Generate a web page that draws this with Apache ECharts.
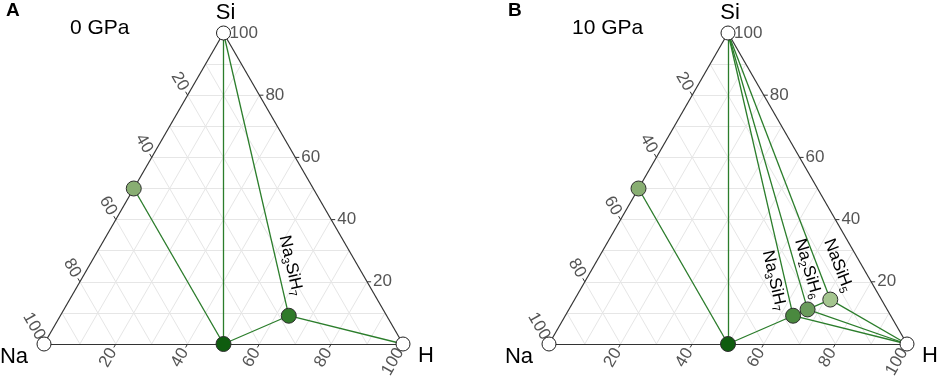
<!DOCTYPE html>
<html>
<head>
<meta charset="utf-8">
<script src="https://cdn.jsdelivr.net/npm/echarts@6/dist/echarts.min.js"></script>
<style>
  html, body { margin: 0; padding: 0; background: #fff; }
  #chart { width: 941px; height: 376px; }
</style>
</head>
<body>
<div id="chart"></div>
<script>
// ---- data ----
// compositions are atom counts [Na, Si, H]
const vertexNames = ['Na', 'Si', 'H'];
const vertexComp = [[1, 0, 0], [0, 1, 0], [0, 0, 1]];
const tickValues = [20, 40, 60, 80, 100];
const gridValues = [10, 20, 30, 40, 50, 60, 70, 80, 90];

const panelLetters = ['A', 'B'];
const pressures = ['0 GPa', '10 GPa'];

// 0 GPa
const phasesA = ['NaSi', 'NaH', 'Na3SiH7'];
const compA = [[1, 1, 0], [1, 0, 1], [3, 1, 7]];
const tiesA = [
    ['NaSi', 'NaH'], ['Si', 'NaH'], ['Si', 'Na3SiH7'],
    ['NaH', 'Na3SiH7'], ['Na3SiH7', 'H']
];
const labelledA = ['Na3SiH7'];

// 10 GPa
const phasesB = ['NaSi', 'NaH', 'Na3SiH7', 'Na2SiH6', 'NaSiH5'];
const compB = [[1, 1, 0], [1, 0, 1], [3, 1, 7], [2, 1, 6], [1, 1, 5]];
const tiesB = [
    ['NaSi', 'NaH'], ['Si', 'NaH'], ['Si', 'Na3SiH7'], ['Si', 'Na2SiH6'], ['Si', 'NaSiH5'],
    ['NaH', 'Na3SiH7'], ['Na3SiH7', 'Na2SiH6'], ['Na2SiH6', 'NaSiH5'],
    ['Na3SiH7', 'H'], ['Na2SiH6', 'H'], ['NaSiH5', 'H']
];
const labelledB = ['Na3SiH7', 'Na2SiH6', 'NaSiH5'];

// ---- styles ----
const colorsA = ['#88ae72', '#0f5c0f', '#2f7a29'];
const colorsB = ['#88ae72', '#0f5c0f', '#4a893f', '#6a9b5b', '#a4c58f'];
// pixel offset of each formula label end from its point
const labelOffA = { Na3SiH7: [8, -20] };
const labelOffB = { Na3SiH7: [-13, -5], Na2SiH6: [8, -11], NaSiH5: [17, -8] };

const FONT = '"Liberation Sans", Arial, sans-serif';
const TIE_COLOR = '#2b7d2b';
const EDGE_COLOR = '#333333';
const GRID_COLOR = '#e6e6e6';
const SQ = Math.sqrt(3) / 2;

const panelGrids = [
    { left: 44, top: 33, width: 359, height: 311 },
    { left: 549, top: 33, width: 358, height: 311 }
];

// ternary composition -> plane (Na at origin, H at x = 1, Si on top)
function tern(c) {
    const s = c[0] + c[1] + c[2];
    return [(c[2] + c[1] / 2) / s, (c[1] / s) * SQ];
}

function segSeries(gi, segs, lineStyle, z) {
    return {
        type: 'lines',
        coordinateSystem: 'cartesian2d',
        xAxisIndex: gi,
        yAxisIndex: gi,
        clip: false,
        silent: true,
        z: z,
        lineStyle: lineStyle,
        data: segs.map(s => ({ coords: s }))
    };
}

function textSeries(gi, items, z) {
    return {
        type: 'custom',
        coordinateSystem: 'cartesian2d',
        xAxisIndex: gi,
        yAxisIndex: gi,
        clip: false,
        silent: true,
        z: z,
        data: items.map(d => d.pos),
        renderItem: function(params, api) {
            const d = items[params.dataIndex];
            const p = api.coord(d.pos);
            let rot = d.rot || 0;
            // align along the tie line from `along` to the point
            if (d.along) {
                const q = api.coord(d.along);
                rot = -Math.atan2(p[1] - q[1], p[0] - q[0]);
            }
            const style = Object.assign({
                text: d.text,
                align: d.align || 'center',
                verticalAlign: d.va || 'middle',
                fill: d.color || '#000',
                font: d.font
            }, d.extra || {});
            return {
                type: 'text',
                x: p[0] + (d.dx || 0),
                y: p[1] + (d.dy || 0),
                rotation: rot,
                style: style
            };
        }
    };
}

// rich text with subscript digits
function formula(name) {
    return name.replace(/([A-Za-z]+)|(\d+)/g, function(m, letters, digits) {
        return letters ? '{n|' + letters + '}' : '{s|' + digits + '}';
    });
}

function buildPanel(gi, phases, comps, ties, colors, labelled, labelOff) {
    const series = [];
    const pos = {};
    vertexNames.forEach((n, i) => { pos[n] = tern(vertexComp[i]); });
    phases.forEach((n, i) => { pos[n] = tern(comps[i]); });

    // background grid
    const gridSegs = [];
    gridValues.forEach(v => {
        const t = v / 100;
        gridSegs.push([tern([1 - t, 0, t]), tern([0, 1 - t, t])]);
        gridSegs.push([tern([1 - t, t, 0]), tern([0, t, 1 - t])]);
        gridSegs.push([tern([t, 1 - t, 0]), tern([t, 0, 1 - t])]);
    });
    series.push(segSeries(gi, gridSegs, { color: GRID_COLOR, width: 1, opacity: 1 }, 1));

    // triangle edges
    series.push(segSeries(gi, [
        [pos.Na, pos.H], [pos.H, pos.Si], [pos.Si, pos.Na]
    ], { color: EDGE_COLOR, width: 1.2, opacity: 1 }, 2));

    // ticks and tick labels
    const tickItems = [];
    const labelItems = [];
    tickValues.forEach(v => {
        const t = v / 100;
        // bottom axis: H %
        tickItems.push({ pos: tern([1 - t, 0, t]), dir: [-0.5, SQ] });
        labelItems.push({ pos: tern([1 - t, 0, t]), text: String(v), dx: -3, dy: 5.5,
            align: 'right', rot: Math.PI / 3, color: '#555', font: '17px ' + FONT });
        // right axis: Si %
        tickItems.push({ pos: tern([0, t, 1 - t]), dir: [1, 0] });
        labelItems.push({ pos: tern([0, t, 1 - t]), text: String(v), dx: 6, dy: 0,
            align: 'left', color: '#555', font: '17px ' + FONT });
        // left axis: Na %
        tickItems.push({ pos: tern([t, 1 - t, 0]), dir: [-0.5, -SQ] });
        labelItems.push({ pos: tern([t, 1 - t, 0]), text: String(v), dx: -3, dy: -5.5,
            align: 'right', rot: -Math.PI / 3, color: '#555', font: '17px ' + FONT });
    });
    series.push({
        type: 'custom',
        coordinateSystem: 'cartesian2d',
        xAxisIndex: gi,
        yAxisIndex: gi,
        clip: false,
        silent: true,
        z: 3,
        data: tickItems.map(d => d.pos),
        renderItem: function(params, api) {
            const d = tickItems[params.dataIndex];
            const p = api.coord(d.pos);
            return {
                type: 'line',
                shape: { x1: p[0], y1: p[1], x2: p[0] + d.dir[0] * 4, y2: p[1] + d.dir[1] * 4 },
                style: { stroke: EDGE_COLOR, lineWidth: 1 }
            };
        }
    });
    series.push(textSeries(gi, labelItems, 3));

    // tie lines
    series.push(segSeries(gi, ties.map(t => [pos[t[0]], pos[t[1]]]),
        { color: TIE_COLOR, width: 1.3, opacity: 1 }, 4));

    // vertices
    series.push({
        type: 'scatter',
        xAxisIndex: gi,
        yAxisIndex: gi,
        clip: false,
        silent: true,
        z: 5,
        symbolSize: 14,
        itemStyle: { color: '#fff', borderColor: '#222', borderWidth: 1, opacity: 1 },
        data: vertexComp.map(tern)
    });

    // stable phases
    series.push({
        type: 'scatter',
        xAxisIndex: gi,
        yAxisIndex: gi,
        clip: false,
        silent: true,
        z: 6,
        symbolSize: 15,
        data: comps.map((c, i) => ({
            value: tern(c),
            itemStyle: { color: colors[i], borderColor: '#2e2e2e', borderWidth: 1, opacity: 1 }
        }))
    });

    // vertex names
    const vOff = { Na: [-30, 13], Si: [2, -20], H: [23, 12] };
    series.push(textSeries(gi, vertexNames.map((n, i) => ({
        pos: tern(vertexComp[i]), text: n, dx: vOff[n][0], dy: vOff[n][1],
        font: '22px ' + FONT, color: '#000'
    })), 7));

    // formula labels, parallel to the tie line from Si
    series.push(textSeries(gi, labelled.map(n => ({
        pos: pos[n], along: pos.Si, text: formula(n), dx: labelOff[n][0], dy: labelOff[n][1],
        align: 'right', font: '17px ' + FONT,
        extra: {
            rich: {
                n: { fontSize: 17, fontFamily: FONT, lineHeight: 19, verticalAlign: 'top', color: '#000' },
                s: { fontSize: 11, fontFamily: FONT, lineHeight: 11, verticalAlign: 'bottom', color: '#000' }
            }
        }
    })), 7));

    return series;
}

const chart = echarts.init(document.getElementById('chart'), null, { renderer: 'canvas' });

const option = {
    backgroundColor: '#fff',
    animation: false,
    title: [
        { text: panelLetters[0], left: 6, top: 1, padding: 0,
          textStyle: { fontSize: 19, fontWeight: 'bold', fontFamily: FONT, color: '#000' } },
        { text: pressures[0], left: 70, top: 18, padding: 0,
          textStyle: { fontSize: 21, fontWeight: 'normal', fontFamily: FONT, color: '#000' } },
        { text: panelLetters[1], left: 508, top: 1, padding: 0,
          textStyle: { fontSize: 19, fontWeight: 'bold', fontFamily: FONT, color: '#000' } },
        { text: pressures[1], left: 572, top: 18, padding: 0,
          textStyle: { fontSize: 21, fontWeight: 'normal', fontFamily: FONT, color: '#000' } }
    ],
    grid: panelGrids,
    xAxis: panelGrids.map((g, i) => ({ gridIndex: i, type: 'value', min: 0, max: 1, show: false })),
    yAxis: panelGrids.map((g, i) => ({ gridIndex: i, type: 'value', min: 0, max: SQ, show: false })),
    series: [].concat(
        buildPanel(0, phasesA, compA, tiesA, colorsA, labelledA, labelOffA),
        buildPanel(1, phasesB, compB, tiesB, colorsB, labelledB, labelOffB)
    )
};

chart.setOption(option);

window.addEventListener('resize', function() {
    chart.resize();
});
</script>
</body>
</html>
